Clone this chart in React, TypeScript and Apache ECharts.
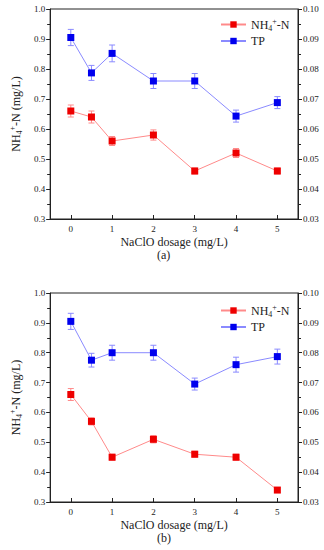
import React, { useEffect, useRef } from "react";
import * as echarts from "echarts";

const xs = [0, 0.5, 1, 2, 3, 4, 5];
const xTicks = [0, 1, 2, 3, 4, 5];

const nh4A = [0.66, 0.64, 0.56, 0.58, 0.46, 0.52, 0.46];
const nh4AErr = [0.02, 0.02, 0.015, 0.017, 0.01, 0.015, 0.01];
const tpA = [0.0905, 0.0787, 0.0852, 0.076, 0.076, 0.0643, 0.0688];
const tpAErr = [0.0027, 0.0025, 0.0028, 0.0025, 0.0025, 0.002, 0.002];

const nh4B = [0.66, 0.57, 0.45, 0.51, 0.46, 0.45, 0.34];
const nh4BErr = [0.02, 0.012, 0.01, 0.012, 0.01, 0.01, 0.008];
const tpB = [0.0905, 0.0775, 0.08, 0.08, 0.0695, 0.076, 0.0787];
const tpBErr = [0.0027, 0.0023, 0.0025, 0.0025, 0.002, 0.0025, 0.0025];

const FONT = "Liberation Serif";
const TXT = "#222";
const RED = "#ee0000";
const RED_L = "#ff8a8a";
const BLUE = "#0000ee";
const BLUE_L = "#8a8aff";

const richText = {
  n: { fontFamily: FONT, fontSize: 12, color: TXT, lineHeight: 15 },
  sub: { fontFamily: FONT, fontSize: 8, color: TXT, lineHeight: 9, verticalAlign: "bottom" },
  sup: { fontFamily: FONT, fontSize: 8, color: TXT, lineHeight: 9, verticalAlign: "top" },
};

function pairs(vals: number[]) {
  return xs.map((x, i) => [x, vals[i]]);
}
function errs(vals: number[], e: number[]) {
  return xs.map((x, i) => [x, vals[i] - e[i], vals[i] + e[i]]);
}

function errSeries(data: number[][], xi: number, yi: number, color: string) {
  return {
    type: "custom",
    xAxisIndex: xi,
    yAxisIndex: yi,
    z: 1,
    silent: true,
    encode: { x: 0, y: [1, 2] },
    data,
    renderItem: (params: any, api: any) => {
      const x = api.value(0);
      const top = api.coord([x, api.value(2)]);
      const bot = api.coord([x, api.value(1)]);
      const hw = 3;
      const style = { stroke: color, lineWidth: 1 };
      return {
        type: "group",
        children: [
          { type: "line", shape: { x1: top[0], y1: top[1], x2: bot[0], y2: bot[1] }, style },
          { type: "line", shape: { x1: top[0] - hw, y1: top[1], x2: top[0] + hw, y2: top[1] }, style },
          { type: "line", shape: { x1: bot[0] - hw, y1: bot[1], x2: bot[0] + hw, y2: bot[1] }, style },
        ],
      };
    },
  };
}

function lineSeries(name: string, data: number[][], xi: number, yi: number, color: string, light: string) {
  return {
    name,
    type: "line",
    xAxisIndex: xi,
    yAxisIndex: yi,
    z: 3,
    data,
    symbol: "rect",
    symbolSize: 7,
    itemStyle: { color },
    lineStyle: { color: light, width: 1 },
  };
}

function xAxis(gi: number) {
  return {
    type: "value",
    gridIndex: gi,
    min: -0.5,
    max: 5.5,
    name: "NaClO dosage (mg/L)",
    nameLocation: "middle",
    nameGap: 17,
    nameTextStyle: { fontFamily: FONT, fontSize: 12, color: TXT },
    axisLine: { show: true, onZero: false, lineStyle: { color: TXT, width: 1 } },
    axisTick: { show: true, inside: true, length: 4, customValues: xTicks, lineStyle: { color: TXT } },
    axisLabel: { customValues: xTicks, fontFamily: FONT, fontSize: 9, color: TXT, margin: 5 },
    splitLine: { show: false },
  };
}

function yLeft(gi: number) {
  return {
    type: "value",
    gridIndex: gi,
    position: "left",
    min: 0.3,
    max: 1.0,
    interval: 0.1,
    name: "{n|NH}{sub|4}{sup|+}{n|-N (mg/L)}",
    nameLocation: "middle",
    nameRotate: 90,
    nameGap: 20,
    nameTextStyle: { fontFamily: FONT, fontSize: 12, color: TXT, rich: richText },
    axisLine: { show: true, onZero: false, lineStyle: { color: TXT, width: 1 } },
    axisTick: { show: true, inside: false, length: 4, lineStyle: { color: TXT } },
    minorTick: { show: true, splitNumber: 2, length: 3, lineStyle: { color: TXT } },
    axisLabel: { fontFamily: FONT, fontSize: 9, color: TXT, margin: 5, formatter: (v: number) => v.toFixed(1) },
    splitLine: { show: false },
  };
}

function yRight(gi: number) {
  return {
    type: "value",
    gridIndex: gi,
    position: "right",
    min: 0.03,
    max: 0.1,
    interval: 0.01,
    axisLine: { show: true, onZero: false, lineStyle: { color: TXT, width: 1 } },
    axisTick: { show: true, inside: false, length: 4, lineStyle: { color: TXT } },
    minorTick: { show: true, splitNumber: 2, length: 3, lineStyle: { color: TXT } },
    axisLabel: { fontFamily: FONT, fontSize: 9, color: TXT, margin: 5, formatter: (v: number) => v.toFixed(2) },
    splitLine: { show: false },
  };
}

function legend(top: number) {
  return {
    top,
    left: 220,
    orient: "vertical",
    padding: 0,
    itemWidth: 25,
    itemHeight: 8,
    itemGap: 3,
    data: ["NH4+-N", "TP"],
    formatter: (name: string) => (name === "NH4+-N" ? "{n|NH}{sub|4}{sup|+}{n|-N}" : "{n|TP}"),
    textStyle: { fontFamily: FONT, fontSize: 12, color: TXT, rich: richText },
  };
}

export default function App() {
  const ref = useRef<HTMLDivElement>(null);
  useEffect(() => {
    document.body.style.margin = "0";
    if (!ref.current) return;
    const chart = echarts.init(ref.current, null, { renderer: "svg" });
    chart.setOption({
      animation: false,
      backgroundColor: "#ffffff",
      grid: [
        { left: 39, top: 9, width: 259, height: 210, show: true, borderColor: TXT, borderWidth: 1, backgroundColor: "transparent" },
        { left: 39, top: 293, width: 259, height: 209, show: true, borderColor: TXT, borderWidth: 1, backgroundColor: "transparent" },
      ],
      legend: [legend(17), legend(303)],
      xAxis: [xAxis(0), xAxis(1)],
      yAxis: [yLeft(0), yRight(0), yLeft(1), yRight(1)],
      graphic: [
        { type: "text", left: 157, top: 249, style: { text: "(a)", fontFamily: FONT, fontSize: 12, fill: TXT } },
        { type: "text", left: 157, top: 532, style: { text: "(b)", fontFamily: FONT, fontSize: 12, fill: TXT } },
      ],
      series: [
        errSeries(errs(nh4A, nh4AErr), 0, 0, RED_L),
        errSeries(errs(tpA, tpAErr), 0, 1, BLUE_L),
        lineSeries("NH4+-N", pairs(nh4A), 0, 0, RED, RED_L),
        lineSeries("TP", pairs(tpA), 0, 1, BLUE, BLUE_L),
        errSeries(errs(nh4B, nh4BErr), 1, 2, RED_L),
        errSeries(errs(tpB, tpBErr), 1, 3, BLUE_L),
        lineSeries("NH4+-N", pairs(nh4B), 1, 2, RED, RED_L),
        lineSeries("TP", pairs(tpB), 1, 3, BLUE, BLUE_L),
      ],
    });
    return () => chart.dispose();
  }, []);
  return <div ref={ref} style={{ width: 324, height: 550 }} />;
}
